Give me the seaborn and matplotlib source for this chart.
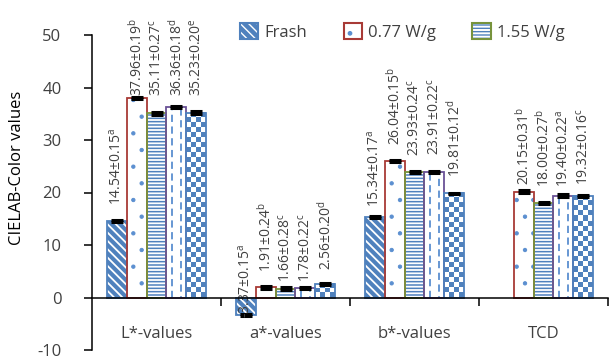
import numpy as np
import pandas as pd
import seaborn as sns
import matplotlib
matplotlib.use("Agg")
import matplotlib.pyplot as plt
from matplotlib.patches import Rectangle, Patch
from matplotlib.colors import ListedColormap

# ---------------- data ----------------
categories = ["L*-values", "a*-values", "b*-values", "TCD"]
series = ["Frash", "0.77 W/g", "1.55 W/g", "Series 4", "Series 5"]
legend_series = ["Frash", "0.77 W/g", "1.55 W/g"]

frash_vals = [14.54, -3.37, 15.34, None]
w077_vals = [37.96, 1.91, 26.04, 20.15]
w155_vals = [35.11, 1.66, 23.93, 18.00]
s4_vals = [36.36, 1.78, 23.91, 19.40]
s5_vals = [35.23, 2.56, 19.81, 19.32]

frash_sd = [0.15, 0.15, 0.17, None]
w077_sd = [0.19, 0.24, 0.15, 0.31]
w155_sd = [0.27, 0.28, 0.24, 0.27]
s4_sd = [0.18, 0.22, 0.22, 0.22]
s5_sd = [0.20, 0.20, 0.12, 0.16]

frash_sig = ["a", "a", "a", None]
w077_sig = ["b", "b", "b", "b"]
w155_sig = ["c", "c", "c", "b"]
s4_sig = ["d", "c", "c", "a"]
s5_sig = ["e", "d", "d", "c"]

y_ticks = [-10, 0, 10, 20, 30, 40, 50]

# label anchor heights (layout, data units)
label_y = {
    "Frash": [17.7, -3.9, 17.3, None],
    "0.77 W/g": [38.3, 4.8, 29.1, 21.5],
    "1.55 W/g": [38.3, 2.9, 26.9, 21.0],
    "Series 4": [38.3, 3.0, 27.2, 21.1],
    "Series 5": [38.3, 5.3, 23.0, 21.5],
}

vals = dict(zip(series, [frash_vals, w077_vals, w155_vals, s4_vals, s5_vals]))
sds = dict(zip(series, [frash_sd, w077_sd, w155_sd, s4_sd, s5_sd]))
sigs = dict(zip(series, [frash_sig, w077_sig, w155_sig, s4_sig, s5_sig]))

rows = []
for s in series:
    for c, v in zip(categories, vals[s]):
        if v is not None:
            rows.append({"category": c, "series": s, "value": v})
df = pd.DataFrame(rows)

# ---------------- style ----------------
sns.set_theme(style="ticks")
plt.rcParams["font.family"] = ["Open Sans", "DejaVu Sans"]
plt.rcParams["mathtext.fontset"] = "custom"
plt.rcParams["mathtext.rm"] = "Open Sans"
plt.rcParams["mathtext.it"] = "Open Sans:italic"
plt.rcParams["mathtext.bf"] = "Open Sans:bold"
plt.rcParams["hatch.linewidth"] = 1.0

BLUE = "#4F81BD"
RED = "#A83A36"
GREEN = "#77933C"
PURPLE = "#6A5296"
TXT = "#404040"

fig = plt.figure(figsize=(6.09, 3.61), dpi=100)
ax = fig.add_axes([92 / 609, 11 / 361, 516 / 609, 315 / 361])

sns.barplot(data=df, x="category", y="value", hue="series",
            order=categories, hue_order=series, width=0.775,
            errorbar=None, palette=[BLUE, "white", "white", "white", BLUE],
            saturation=1, legend=False, ax=ax)

ax.set_xlim(-0.5, 3.5)
ax.set_ylim(-10, 50)

styles = {
    "Frash": dict(face=BLUE, hatch="\\\\\\\\", hcol="white", edge=BLUE, hlw=1.3),
    "0.77 W/g": dict(face="white", hatch=".", hcol="#5B8FD0", edge=RED, hlw=0.7),
    "1.55 W/g": dict(face="white", hatch="-----", hcol=BLUE, edge=GREEN, hlw=1.1),
    "Series 4": dict(face="white", hatch=None, hcol=BLUE, edge=PURPLE, hlw=1.0),
    "Series 5": dict(face="white", hatch=None, hcol=BLUE, edge=BLUE, hlw=1.0),
}

checker_cmap = ListedColormap(["white", BLUE])
px_per_unit = abs(ax.transData.transform((0, 1))[1] - ax.transData.transform((0, 0))[1])

bar_containers = list(ax.containers)
for si, cont in enumerate(bar_containers):
    s = series[si]
    st = styles[s]
    for p in cont.patches:
        x0, w, h = p.get_x(), p.get_width(), p.get_height()
        if np.isnan(h) or h == 0:
            continue
        xc = x0 + w / 2
        ci = int(round(xc))
        p.set_facecolor(st["face"])
        if st["hatch"]:
            p.set_hatch(st["hatch"])
            p.set_edgecolor(st["hcol"])
            if hasattr(p, "set_hatch_linewidth"):
                p.set_hatch_linewidth(st["hlw"])
        else:
            p.set_edgecolor("none")
        p.set_linewidth(0)
        z = p.get_zorder()
        if s == "Series 4":
            for frac, off in ((0.28, 0), (0.72, 3)):
                ln, = ax.plot([x0 + w * frac] * 2, [0, h], color="#5B8FD0",
                              lw=1.3, ls=(off, (4, 2.5)), zorder=z + 0.1,
                              solid_capstyle="butt")
                ln.set_clip_path(p)
        if s == "Series 5":
            nr = max(1, int(round(abs(h) * px_per_unit / 5.0)))
            nc = 4
            arr = (np.add.outer(np.arange(nr), np.arange(nc)) % 2)
            ax.imshow(arr, cmap=checker_cmap, extent=(x0, x0 + w, 0, h),
                      origin="lower", aspect="auto", interpolation="nearest",
                      zorder=z + 0.1)
        ax.add_patch(Rectangle((x0, 0), w, h, fill=False, edgecolor=st["edge"],
                               lw=1.3, zorder=z + 0.2))
        v = vals[s][ci]
        sd = sds[s][ci]
        ax.errorbar(xc, v, yerr=sd, fmt="none", ecolor="black", elinewidth=1.0,
                    capsize=4.3, capthick=2.2, zorder=z + 0.5)
        ax.text(xc, label_y[s][ci],
                f"{v:.2f}\u00b1{sd:.2f}$^{{\\mathrm{{{sigs[s][ci]}}}}}$",
                rotation=90, ha="center", va="bottom", fontsize=10,
                color=TXT, zorder=z + 1)

ax.set_xlim(-0.5, 3.5)
ax.set_ylim(-10, 50)

# axes styling
sns.despine(ax=ax)
ax.spines["bottom"].set_position(("data", 0))
for sp in ("left", "bottom"):
    ax.spines[sp].set_color("black")
    ax.spines[sp].set_linewidth(1.1)
ax.set_xticks([0.5, 1.5, 2.5, 3.5])
ax.set_xticklabels([])
ax.tick_params(axis="x", direction="out", length=6, width=1.1, color="black")
ax.set_yticks(y_ticks)
ax.set_yticklabels([str(t) for t in y_ticks])
ax.tick_params(axis="y", direction="out", length=6, width=1.1, color="black",
               pad=16, labelsize=12, labelcolor=TXT)
ax.set_xlabel("")
ax.set_ylabel("")
for i, c in enumerate(categories):
    ax.text(i, -7.0, c, ha="center", va="center", fontsize=12, color=TXT)

fig.text(17 / 609, 1 - 168 / 361, "CIELAB-Color values", rotation=90,
         ha="center", va="center", fontsize=12, color="black")

# legend
handles = []
for s in legend_series:
    st = styles[s]
    fill = Patch(facecolor=st["face"], edgecolor=st["hcol"], hatch=st["hatch"], lw=0)
    border = Patch(facecolor="none", edgecolor=st["edge"], lw=1.5)
    handles.append((fill, border))
leg = fig.legend(handles, legend_series, loc="center left",
                 bbox_to_anchor=(240 / 609, 1 - 32 / 361), ncol=3, frameon=False,
                 fontsize=12, handlelength=1.1, handleheight=1.1,
                 handletextpad=0.35, columnspacing=2.2, borderpad=0,
                 borderaxespad=0)
for t in leg.get_texts():
    t.set_color(TXT)

fig.savefig("out.png", dpi=100)
